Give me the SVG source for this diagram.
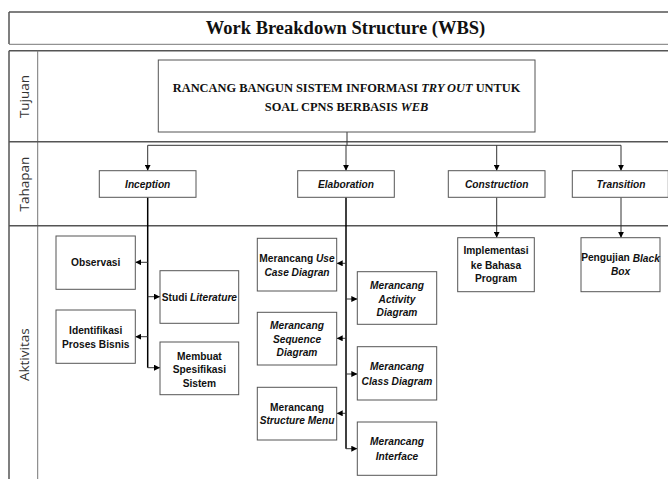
<svg xmlns="http://www.w3.org/2000/svg" width="668" height="479" viewBox="0 0 668 479">
<defs>
<style>
.frame{fill:none;stroke:#555;stroke-width:1.5}
.thin{fill:none;stroke:#777;stroke-width:1}
.box{fill:#fff;stroke:#555;stroke-width:1}
.c{fill:none;stroke:#333;stroke-width:1}
.trunk{fill:none;stroke:#000;stroke-width:1.5}
.lane{font-family:"Open Sans","DejaVu Sans",sans-serif;font-size:13.5px;fill:#333;text-anchor:middle;dominant-baseline:central}
.t{font-family:"Liberation Sans",Arial,sans-serif;font-size:10.2px;font-weight:bold;fill:#111;text-anchor:middle;dominant-baseline:central}
.i{font-style:italic}
.serif{font-family:"Liberation Serif","Times New Roman",serif;font-weight:bold;fill:#111;text-anchor:middle;dominant-baseline:central}
</style>
<marker id="ah" viewBox="0 0 6 6" refX="6" refY="3" markerWidth="6" markerHeight="6" markerUnits="userSpaceOnUse" orient="auto">
<path d="M0,0 L6,3 L0,6 Z" fill="#000"/>
</marker>
</defs>
<rect width="668" height="479" fill="#fff"/>

<g id="frame">
<line class="frame" x1="9" y1="12" x2="668" y2="12"/>
<line class="frame" x1="9" y1="12" x2="9" y2="44"/>
<line class="thin" x1="9" y1="44.3" x2="668" y2="44.3"/>
<line class="frame" x1="9" y1="50.7" x2="668" y2="50.7"/>
<line class="frame" x1="9" y1="50.7" x2="9" y2="479"/>
<line class="thin" x1="37.7" y1="50.7" x2="37.7" y2="479"/>
<line class="frame" x1="9" y1="141.7" x2="668" y2="141.7"/>
<line class="frame" x1="9" y1="225.7" x2="668" y2="225.7"/>
<text class="serif" x="345.5" y="27.5" font-size="18.5">Work Breakdown Structure (WBS)</text>
<text class="lane" transform="translate(23.5,96.5) rotate(-90)">Tujuan</text>
<text class="lane" transform="translate(23.5,184) rotate(-90)">Tahapan</text>
<text class="lane" transform="translate(23.5,354.7) rotate(-90)">Aktivitas</text>
</g>

<g id="connectors">
<path class="c" d="M347,132 V145.3"/>
<path class="c" d="M147.7,145.3 H621"/>
<path class="c" d="M147.7,145.3 V170.7" marker-end="url(#ah)"/>
<path class="c" d="M346,145.3 V170.7" marker-end="url(#ah)"/>
<path class="c" d="M496.7,145.3 V170.7" marker-end="url(#ah)"/>
<path class="c" d="M621,145.3 V170.7" marker-end="url(#ah)"/>
<path class="c" d="M496.7,197.3 V237.7" marker-end="url(#ah)"/>
<path class="c" d="M621,197.3 V237.7" marker-end="url(#ah)"/>
<path class="trunk" d="M147.7,197.3 V367.7"/>
<path class="c" d="M147.7,262.3 H135.3" marker-end="url(#ah)"/>
<path class="c" d="M147.7,296.7 H160" marker-end="url(#ah)"/>
<path class="c" d="M147.7,336.7 H135.3" marker-end="url(#ah)"/>
<path class="c" d="M147.7,367.7 H160" marker-end="url(#ah)"/>
<path class="trunk" d="M346,197.3 V448.7"/>
<path class="c" d="M346,263.3 H336.7" marker-end="url(#ah)"/>
<path class="c" d="M346,299 H357.3" marker-end="url(#ah)"/>
<path class="c" d="M346,338.3 H336.7" marker-end="url(#ah)"/>
<path class="c" d="M346,374 H357.3" marker-end="url(#ah)"/>
<path class="c" d="M346,413.3 H336.7" marker-end="url(#ah)"/>
<path class="c" d="M346,448.7 H357.3" marker-end="url(#ah)"/>
</g>

<g id="tujuan">
<rect class="box" x="158.3" y="60" width="376.7" height="72"/>
<text class="serif" font-size="12.4" x="346.6" y="88.3">RANCANG BANGUN SISTEM INFORMASI <tspan class="i">TRY OUT</tspan> UNTUK</text>
<text class="serif" font-size="12.4" x="346.6" y="106.7">SOAL CPNS BERBASIS <tspan class="i">WEB</tspan></text>
</g>

<g id="inception">
<rect class="box" x="99.3" y="170.7" width="96.7" height="26.6"/>
<text class="t i" x="147.7" y="184">Inception</text>
</g>
<g id="elaboration">
<rect class="box" x="297.7" y="170.7" width="96.6" height="26.6"/>
<text class="t i" x="346" y="184">Elaboration</text>
</g>
<g id="construction">
<rect class="box" x="448.3" y="170.7" width="96.7" height="26.6"/>
<text class="t i" x="496.7" y="184">Construction</text>
</g>
<g id="transition">
<rect class="box" x="572.3" y="170.7" width="96" height="26.6"/>
<text class="t i" x="621" y="184">Transition</text>
</g>

<g id="observasi">
<rect class="box" x="56" y="236" width="79.3" height="53.3"/>
<text class="t" x="95.7" y="262.3">Observasi</text>
</g>
<g id="studi-literature">
<rect class="box" x="160" y="270.7" width="78.7" height="52.6"/>
<text class="t" x="199.4" y="297">Studi <tspan class="i">Literature</tspan></text>
</g>
<g id="identifikasi">
<rect class="box" x="56" y="310" width="79.3" height="53.3"/>
<text class="t" x="95.7" y="330">Identifikasi</text>
<text class="t" x="95.7" y="344">Proses Bisnis</text>
</g>
<g id="membuat-spesifikasi">
<rect class="box" x="160" y="342" width="78.7" height="52.7"/>
<text class="t" x="199.4" y="356">Membuat</text>
<text class="t" x="199.4" y="369.5">Spesifikasi</text>
<text class="t" x="199.4" y="383">Sistem</text>
</g>

<g id="use-case">
<rect class="box" x="257.3" y="238.3" width="79.4" height="52.7"/>
<text class="t" x="297" y="258.3">Merancang <tspan class="i">Use</tspan></text>
<text class="t i" x="297" y="272.3">Case Diagran</text>
</g>
<g id="activity">
<rect class="box" x="357.3" y="271.7" width="79.4" height="52.6"/>
<text class="t i" x="397" y="285">Merancang</text>
<text class="t i" x="397" y="299">Activity</text>
<text class="t i" x="397" y="312.7">Diagram</text>
</g>
<g id="sequence">
<rect class="box" x="257.3" y="312.3" width="79.4" height="52.7"/>
<text class="t i" x="297" y="325.7">Merancang</text>
<text class="t i" x="297" y="339">Sequence</text>
<text class="t i" x="297" y="352.7">Diagram</text>
</g>
<g id="class">
<rect class="box" x="357.3" y="346.7" width="79.4" height="53.3"/>
<text class="t i" x="397" y="366.7">Merancang</text>
<text class="t i" x="397" y="381">Class Diagram</text>
</g>
<g id="structure">
<rect class="box" x="257.3" y="387.3" width="79.4" height="52.7"/>
<text class="t" x="297" y="407.3">Merancang</text>
<text class="t i" x="297" y="420.7">Structure Menu</text>
</g>
<g id="interface">
<rect class="box" x="357.3" y="422" width="79.4" height="53.3"/>
<text class="t i" x="397" y="441.7">Merancang</text>
<text class="t i" x="397" y="456">Interface</text>
</g>

<g id="implementasi">
<rect class="box" x="457.7" y="237.7" width="76.6" height="54"/>
<text class="t" x="496" y="250.7">Implementasi</text>
<text class="t" x="496" y="265">ke Bahasa</text>
<text class="t" x="496" y="278.3">Program</text>
</g>
<g id="pengujian">
<rect class="box" x="581" y="237.7" width="79" height="54"/>
<text class="t" x="620.5" y="257.7">Pengujian <tspan class="i">Black</tspan></text>
<text class="t i" x="620.5" y="271.7">Box</text>
</g>
</svg>
